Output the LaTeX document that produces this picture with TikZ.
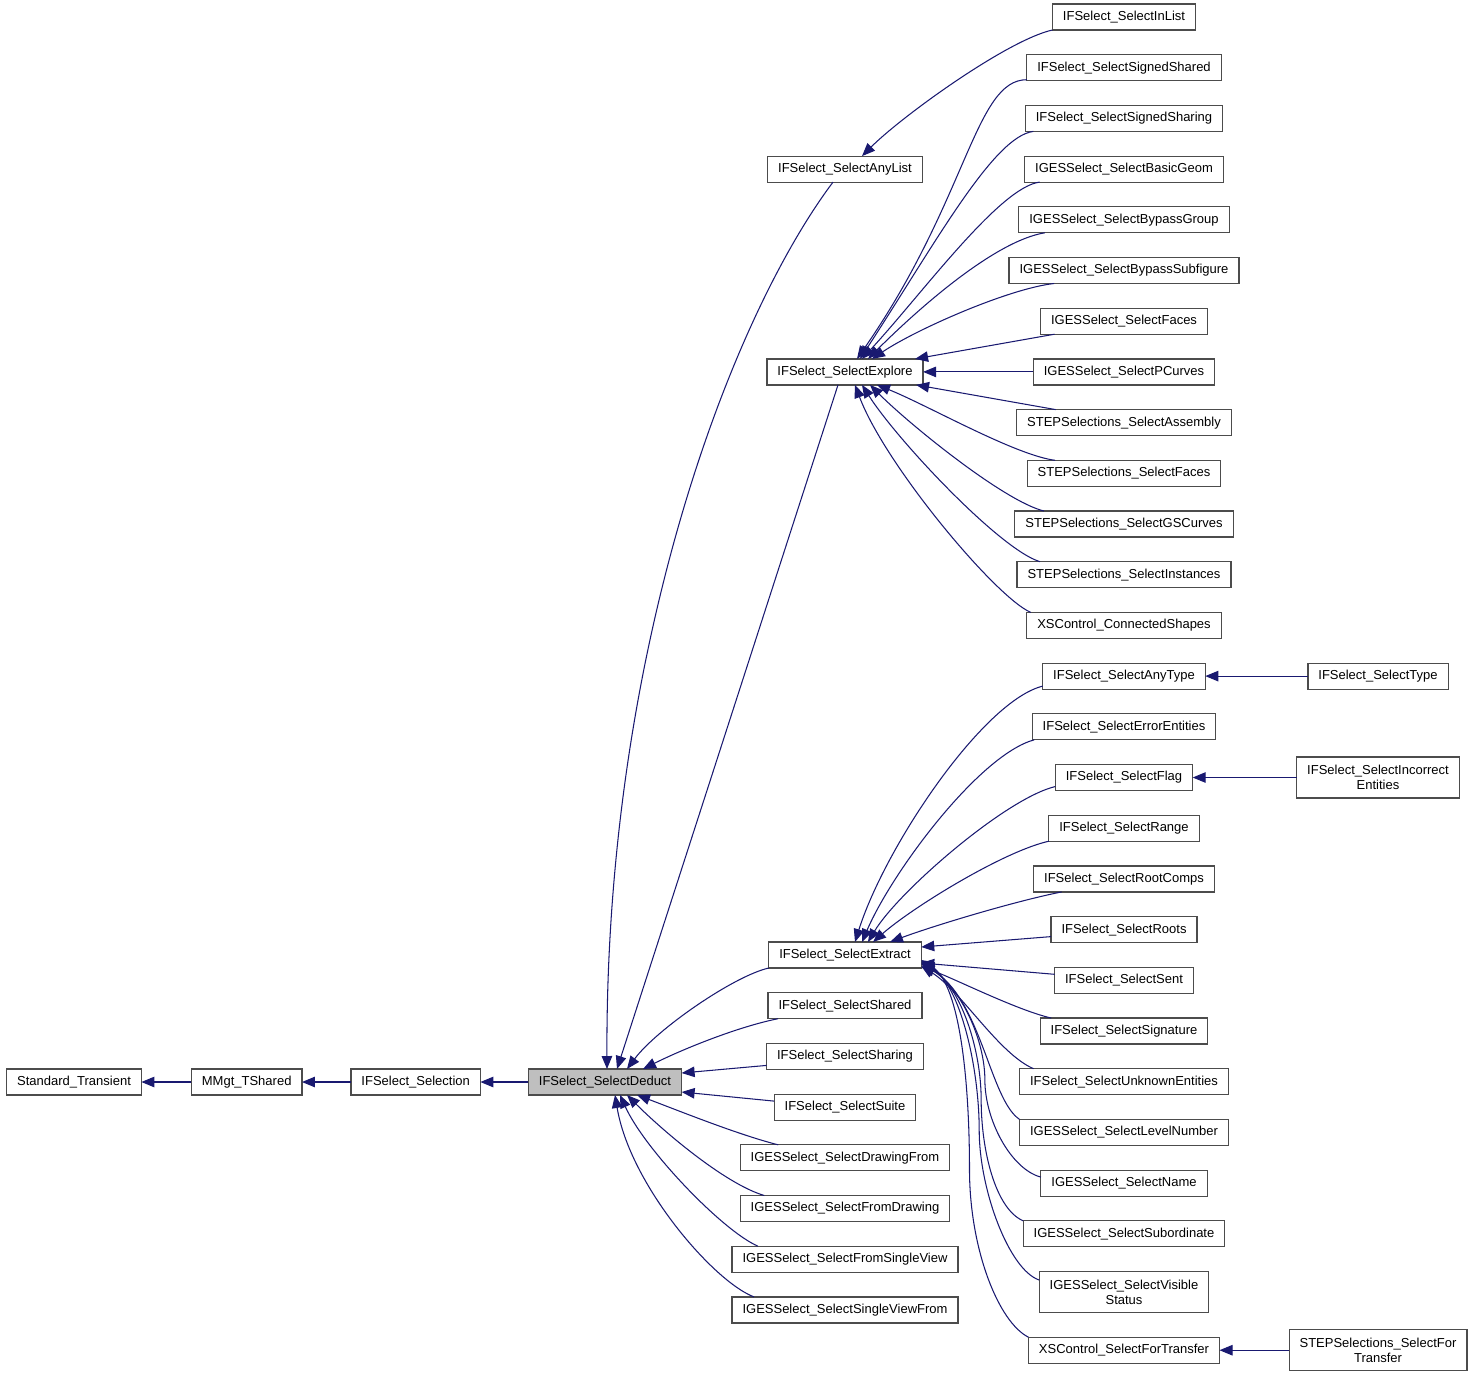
\documentclass[tikz,border=0pt]{standalone}
\usepackage{fontspec}
\setmainfont{Liberation Sans}
\usepackage{tikz}
\usetikzlibrary{positioning, arrows.meta}

\definecolor{edgeblue}{HTML}{191970}

\tikzset{
    cls/.style={draw=black!70, line width=1.2pt, fill=white, outer sep=0pt,
        minimum height=26pt, inner xsep=10.5pt, inner ysep=3pt,
        text height=9.5pt, text depth=2.7pt, font=\fontsize{13pt}{15pt}\selectfont},
    twoline/.style={align=center, minimum height=41pt, text height={}, text depth={}},
    current/.style={fill=black!25},
    inh/.style={->, draw=edgeblue, line width=1.05pt},
}

\begin{document}
\begin{tikzpicture}[x=1pt, y=1pt, >={Triangle[length=13pt, width=10.5pt]}, node distance=24.7pt]
    \useasboundingbox (0,0) rectangle (1475,-1377);
    \coordinate (midcol) at (845,0);
    \coordinate (farcol) at (1378,0);

    % right column
    \node[cls] (inlist) at (1124,-17) {IFSelect\_SelectInList};
    \node[cls, below=of inlist] (signedshared) {IFSelect\_SelectSignedShared};
    \node[cls, below=of signedshared] (signedsharing) {IFSelect\_SelectSignedSharing};
    \node[cls, below=of signedsharing] (basicgeom) {IGESSelect\_SelectBasicGeom};
    \node[cls, below=of basicgeom] (bypassgroup) {IGESSelect\_SelectBypassGroup};
    \node[cls, below=of bypassgroup] (bypasssubfig) {IGESSelect\_SelectBypassSubfigure};
    \node[cls, below=of bypasssubfig] (igesfaces) {IGESSelect\_SelectFaces};
    \node[cls, below=of igesfaces] (pcurves) {IGESSelect\_SelectPCurves};
    \node[cls, below=of pcurves] (assembly) {STEPSelections\_SelectAssembly};
    \node[cls, below=of assembly] (stepfaces) {STEPSelections\_SelectFaces};
    \node[cls, below=of stepfaces] (gscurves) {STEPSelections\_SelectGSCurves};
    \node[cls, below=of gscurves] (instances) {STEPSelections\_SelectInstances};
    \node[cls, below=of instances] (connshapes) {XSControl\_ConnectedShapes};
    \node[cls, below=of connshapes] (anytype) {IFSelect\_SelectAnyType};
    \node[cls, below=of anytype] (errorent) {IFSelect\_SelectErrorEntities};
    \node[cls, below=of errorent] (flag) {IFSelect\_SelectFlag};
    \node[cls, below=of flag] (range) {IFSelect\_SelectRange};
    \node[cls, below=of range] (rootcomps) {IFSelect\_SelectRootComps};
    \node[cls, below=of rootcomps] (roots) {IFSelect\_SelectRoots};
    \node[cls, below=of roots] (sent) {IFSelect\_SelectSent};
    \node[cls, below=of sent] (signature) {IFSelect\_SelectSignature};
    \node[cls, below=of signature] (unknownent) {IFSelect\_SelectUnknownEntities};
    \node[cls, below=of unknownent] (levelnumber) {IGESSelect\_SelectLevelNumber};
    \node[cls, below=of levelnumber] (igesname) {IGESSelect\_SelectName};
    \node[cls, below=of igesname] (subordinate) {IGESSelect\_SelectSubordinate};
    \node[cls, twoline, below=of subordinate] (visiblestatus) {IGESSelect\_SelectVisible\\Status};
    \node[cls, below=of visiblestatus] (xsfortransfer) {XSControl\_SelectForTransfer};

    % far right
    \node[cls] (selecttype) at (anytype -| farcol) {IFSelect\_SelectType};
    \node[cls, twoline] (incorrect) at (flag -| farcol) {IFSelect\_SelectIncorrect\\Entities};
    \node[cls, twoline] (stepfortransfer) at (xsfortransfer -| farcol) {STEPSelections\_SelectFor\\Transfer};

    % middle column
    \node[cls] (anylist) at (basicgeom -| midcol) {IFSelect\_SelectAnyList};
    \node[cls] (explore) at (pcurves -| midcol) {IFSelect\_SelectExplore};
    \node[cls] (extract) at (845,-955) {IFSelect\_SelectExtract};
    \node[cls, below=of extract] (shared) {IFSelect\_SelectShared};
    \node[cls, below=of shared] (sharing) {IFSelect\_SelectSharing};
    \node[cls, below=of sharing] (suite) {IFSelect\_SelectSuite};
    \node[cls, below=of suite] (drawingfrom) {IGESSelect\_SelectDrawingFrom};
    \node[cls, below=of drawingfrom] (fromdrawing) {IGESSelect\_SelectFromDrawing};
    \node[cls, below=of fromdrawing] (fromsingleview) {IGESSelect\_SelectFromSingleView};
    \node[cls, below=of fromsingleview] (singleviewfrom) {IGESSelect\_SelectSingleViewFrom};

    % base chain
    \node[cls, current] (deduct) at (605,-1082) {IFSelect\_SelectDeduct};
    \node[cls, left=48pt of deduct] (selection) {IFSelect\_Selection};
    \node[cls, left=49pt of selection] (tshared) {MMgt\_TShared};
    \node[cls, left=50pt of tshared] (stdtrans) {Standard\_Transient};

    \draw[inh] (tshared) -- (stdtrans);
    \draw[inh] (selection) -- (tshared);
    \draw[inh] (deduct) -- (selection);

    % into SelectDeduct
    \draw[inh] ([xshift=-12pt]anylist.south) .. controls +(-103,-137) and +(-2,418) .. ([xshift=2pt]deduct.north);
    \draw[inh] ([xshift=-7pt]explore.south) -- ([xshift=12pt]deduct.north);
    \draw[inh] (extract.south west) .. controls +(-35,-8) and +(30,40) .. ([xshift=22pt]deduct.north);
    \draw[inh] ([xshift=10pt]shared.south west) .. controls +(-40,-8) and +(40,20) .. ([xshift=38pt]deduct.north);
    \draw[inh] ([yshift=-9pt]sharing.west) -- ([yshift=9pt]deduct.east);
    \draw[inh] ([yshift=6pt]suite.west) -- ([yshift=-10pt]deduct.east);
    \draw[inh] ([xshift=38pt]drawingfrom.north west) .. controls +(-40,10) and +(40,-15) .. ([xshift=32pt]deduct.south);
    \draw[inh] ([xshift=24pt]fromdrawing.north west) .. controls +(-40,12) and +(35,-35) .. ([xshift=22pt]deduct.south);
    \draw[inh] ([xshift=26pt]fromsingleview.north west) .. controls +(-35,15) and +(25,-55) .. ([xshift=15pt]deduct.south);
    \draw[inh] ([xshift=22pt]singleviewfrom.north west) .. controls +(-40,15) and +(15,-90) .. ([xshift=10pt]deduct.south);

    % into SelectAnyList
    \draw[inh] (inlist.south west) .. controls +(-45,-10) and +(40,40) .. ([xshift=17pt]anylist.north);

    % into SelectExplore
    \draw[inh] ([yshift=1pt]signedshared.south west) .. controls +(-52,0) and +(111,160) .. ([xshift=12pt]explore.north);
    \draw[inh] ([xshift=8pt]signedsharing.south west) .. controls +(-40,-5) and +(75,115) .. ([xshift=15pt]explore.north);
    \draw[inh] ([xshift=15pt]basicgeom.south west) .. controls +(-40,-5) and +(60,65) .. ([xshift=17pt]explore.north);
    \draw[inh] ([xshift=26pt]bypassgroup.south west) .. controls +(-50,-8) and +(50,50) .. ([xshift=23pt]explore.north);
    \draw[inh] ([xshift=45pt]bypasssubfig.south west) .. controls +(-45,-5) and +(45,30) .. ([xshift=27pt]explore.north);
    \draw[inh] ([xshift=14pt]igesfaces.south west) -- ([xshift=-8pt]explore.north east);
    \draw[inh] (pcurves.west) -- (explore.east);
    \draw[inh] ([xshift=39pt]assembly.north west) -- ([xshift=-7pt]explore.south east);
    \draw[inh] ([xshift=28pt]stepfaces.north west) .. controls +(-40,5) and +(50,-20) .. ([xshift=32pt]explore.south);
    \draw[inh] ([xshift=29pt]gscurves.north west) .. controls +(-40,10) and +(40,-40) .. ([xshift=25pt]explore.south);
    \draw[inh] ([xshift=23pt]instances.north west) .. controls +(-40,12) and +(35,-55) .. ([xshift=17pt]explore.south);
    \draw[inh] ([xshift=4pt]connshapes.north west) .. controls +(-35,15) and +(30,-80) .. ([xshift=10pt]explore.south);

    % into SelectExtract
    \draw[inh] ([yshift=3pt]anytype.south west) .. controls +(-60,-15) and +(30,95) .. ([xshift=10pt]extract.north);
    \draw[inh] ([xshift=2pt]errorent.south west) .. controls +(-55,-15) and +(30,70) .. ([xshift=17pt]extract.north);
    \draw[inh] ([yshift=-9pt]flag.west) .. controls +(-50,-12) and +(30,50) .. ([xshift=23pt]extract.north);
    \draw[inh] (range.south west) .. controls +(-45,-10) and +(40,35) .. ([xshift=28pt]extract.north);
    \draw[inh] ([xshift=28pt]rootcomps.south west) .. controls +(-50,-10) and +(40,15) .. ([xshift=45pt]extract.north);
    \draw[inh] ([yshift=-7pt]roots.west) -- ([yshift=8pt]extract.east);
    \draw[inh] ([yshift=6pt]sent.west) -- ([yshift=-8pt]extract.east);
    \draw[inh] ([xshift=11pt]signature.north west) .. controls +(-35,8) and +(30,-10) .. ([yshift=1pt]extract.south east);
    \draw[inh] ([xshift=14pt]unknownent.north west) .. controls +(-35,15) and +(40,-25) .. ([yshift=2pt]extract.south east);
    \draw[inh] (levelnumber.north west) .. controls +(-30,20) and +(60,-34) .. ([yshift=4pt]extract.south east);
    \draw[inh] ([yshift=6pt]igesname.west) .. controls +(-30,8) and +(0,-40) .. ++(-56,97)
        .. controls +(0,40) and +(40,-25) .. ([yshift=5pt]extract.south east);
    \draw[inh] (subordinate.north west) .. controls +(-28,12) and +(0,-50) .. ++(-42,121)
        .. controls +(0,50) and +(40,-25) .. ([yshift=6pt]extract.south east);
    \draw[inh] ([yshift=12pt]visiblestatus.west) .. controls +(-30,10) and +(0,-60) .. ++(-60,150)
        .. controls +(0,60) and +(40,-25) .. ([yshift=7pt]extract.south east);
    \draw[inh] (xsfortransfer.north west) .. controls +(-30,15) and +(0,-80) .. ++(-59,168)
        .. controls +(0,80) and +(40,-25) .. ([yshift=8pt]extract.south east);

    % far right
    \draw[inh] (selecttype) -- (anytype);
    \draw[inh] (incorrect) -- (flag);
    \draw[inh] (stepfortransfer) -- (xsfortransfer);
\end{tikzpicture}
\end{document}
